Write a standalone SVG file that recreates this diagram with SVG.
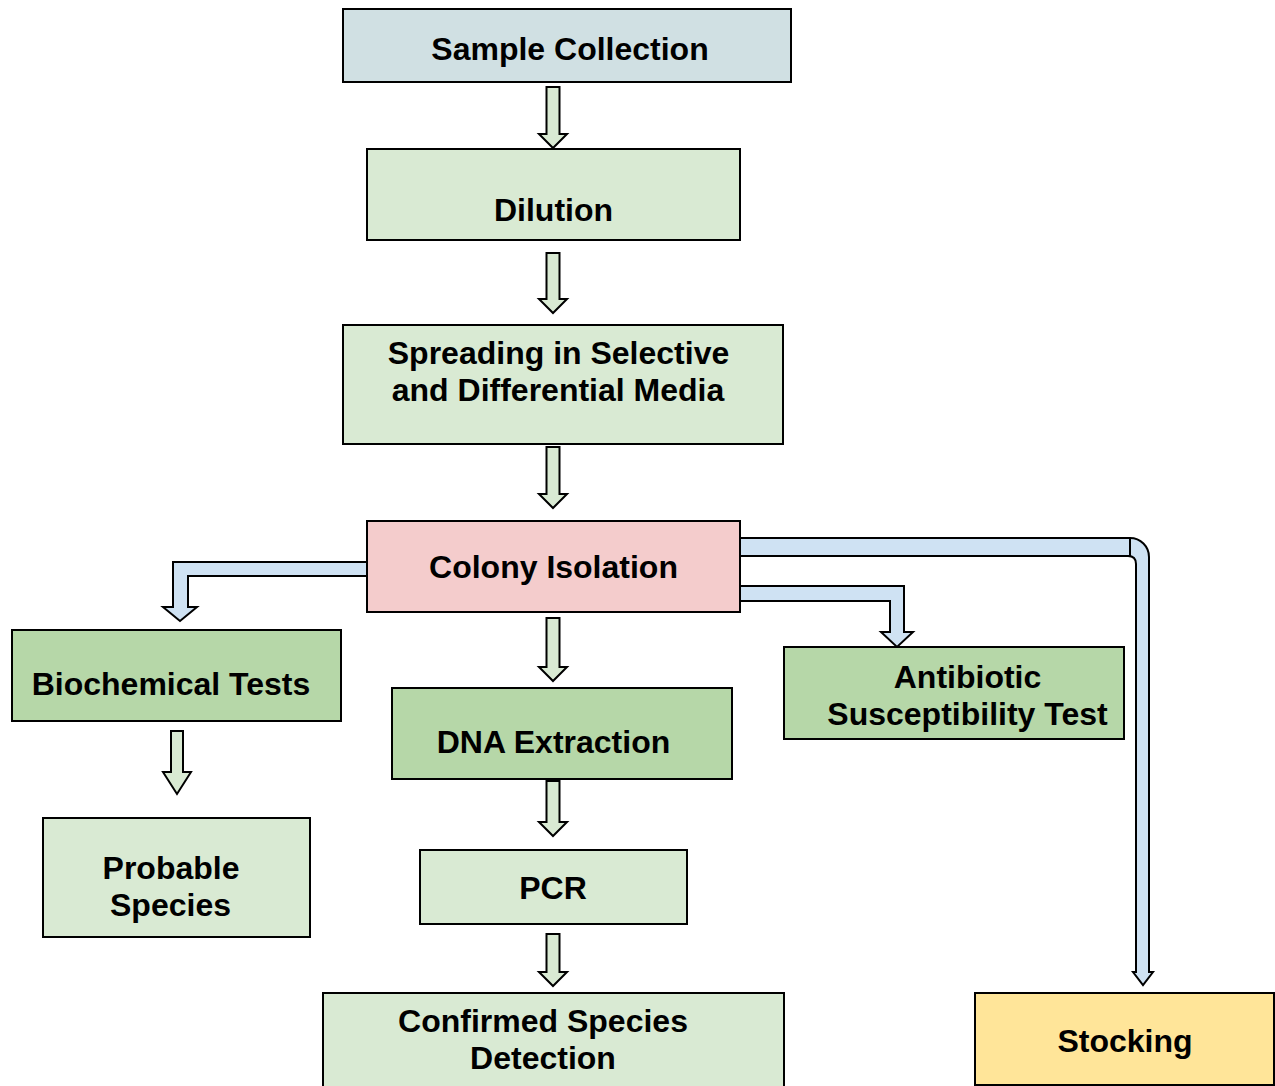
<svg xmlns="http://www.w3.org/2000/svg" width="1275" height="1086" viewBox="0 0 1275 1086">
<style>
.box{stroke:#000;stroke-width:2}
.t{font-family:"Liberation Sans",Arial,sans-serif;font-weight:bold;font-size:32px;text-anchor:middle;fill:#000}
.ga{fill:#d9ead3;stroke:#000;stroke-width:2;stroke-linejoin:miter}
.ba{fill:#cfe2f3;stroke:#000;stroke-width:2;stroke-linejoin:miter}
</style>
<rect width="1275" height="1086" fill="#fff"/>
<g id="connectors">
<path class="ga" d="M546.5,87 H559.5 V134 H567 L553,148 L539,134 H546.5 Z"/>
<path class="ga" d="M546.5,253 H559.5 V299 H567 L553,313 L539,299 H546.5 Z"/>
<path class="ga" d="M546.5,447 H559.5 V494 H567 L553,508 L539,494 H546.5 Z"/>
<path class="ga" d="M546.5,618 H559.5 V667 H567 L553,681 L539,667 H546.5 Z"/>
<path class="ga" d="M171,731 H183 V772 H191 L177,794 L163,772 H171 Z"/>
<path class="ga" d="M546.5,781 H559.5 V822 H567 L553,836 L539,822 H546.5 Z"/>
<path class="ga" d="M546.5,934 H559.5 V972 H567 L553,986 L539,972 H546.5 Z"/>
<path class="ba" d="M367,562 H173 V607 H163 L180,621 L197,607 H188 V576 H367 Z"/>
<path class="ba" d="M740,586 H904 V632 H913 L897,647 L881,632 H890 V601 H740 Z"/>
<path class="ba" d="M1126,538 H1130 A19,19 0 0 1 1149,557 V972 H1153 L1143,985 L1133,972 H1136 V564 Q1136,556 1128,556 Z"/>
<path class="ba" d="M740,538 H1130 V556 H740 Z"/>
</g>
<g id="sample-collection"><rect class="box" x="343" y="9" width="448" height="73" fill="#d0e0e3"/><text class="t" x="570" y="60">Sample Collection</text></g>
<g id="dilution"><rect class="box" x="367" y="149" width="373" height="91" fill="#d9ead3"/><text class="t" x="553.5" y="221">Dilution</text></g>
<g id="spreading"><rect class="box" x="343" y="325" width="440" height="119" fill="#d9ead3"/><text class="t" x="558.5" y="364">Spreading in Selective</text><text class="t" x="558" y="401">and Differential Media</text></g>
<g id="colony-isolation"><rect class="box" x="367" y="521" width="373" height="91" fill="#f4cccc"/><text class="t" x="553.5" y="578">Colony Isolation</text></g>
<g id="biochemical-tests"><rect class="box" x="12" y="630" width="329" height="91" fill="#b6d7a8"/><text class="t" x="171" y="695">Biochemical Tests</text></g>
<g id="dna-extraction"><rect class="box" x="392" y="688" width="340" height="91" fill="#b6d7a8"/><text class="t" x="553.5" y="753">DNA Extraction</text></g>
<g id="antibiotic"><rect class="box" x="784" y="647" width="340" height="92" fill="#b6d7a8"/><text class="t" x="967.5" y="688">Antibiotic</text><text class="t" x="967.5" y="725">Susceptibility Test</text></g>
<g id="probable-species"><rect class="box" x="43" y="818" width="267" height="119" fill="#d9ead3"/><text class="t" x="171" y="879">Probable</text><text class="t" x="170.5" y="916">Species</text></g>
<g id="pcr"><rect class="box" x="420" y="850" width="267" height="74" fill="#d9ead3"/><text class="t" x="553" y="899">PCR</text></g>
<g id="confirmed-species"><rect class="box" x="323" y="993" width="461" height="100" fill="#d9ead3"/><text class="t" x="543" y="1032">Confirmed Species</text><text class="t" x="543" y="1069">Detection</text></g>
<g id="stocking"><rect class="box" x="975" y="993" width="299" height="92" fill="#ffe599"/><text class="t" x="1125" y="1052">Stocking</text></g>
</svg>
